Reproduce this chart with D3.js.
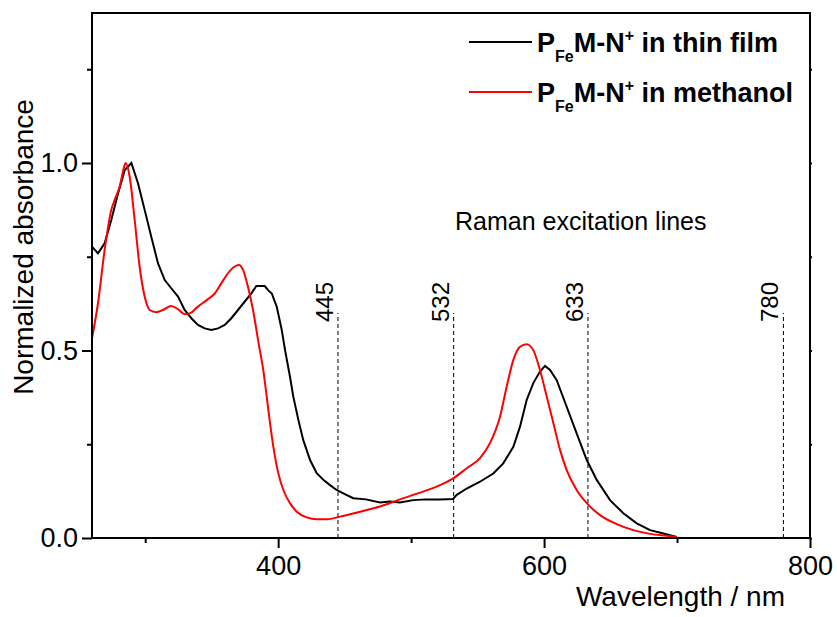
<!DOCTYPE html>
<html>
<head>
<meta charset="utf-8">
<script src="https://cdn.jsdelivr.net/npm/d3@7"></script>
<style>
  body { margin: 0; background: #fff; }
  text { font-family: Arial, "Liberation Sans", sans-serif; }
</style>
</head>
<body>
<svg id="chart" width="837" height="617"></svg>
<script>
// thin film spectrum (nm, normalized absorbance)
var filmNm = [260, 264.5, 269.5, 274.5, 279.6, 284.6, 287, 289.6, 294.6, 299.6, 304.6, 309.6, 314.7, 319.6, 324.7, 329.7, 334.7, 339.7, 344.8, 349.7, 354.8, 359.8, 364.8, 369.8, 374.8, 379.8, 383.6, 389.9, 392.4, 395.2, 398.9, 402.7, 405.2, 408.9, 411.4, 415.2, 418.9, 424, 429, 434, 439, 444, 449, 456.5, 466, 476.6, 484, 491.6, 501.6, 511, 521.7, 531.5, 534.3, 541.8, 551.8, 561.8, 569.3, 576.9, 581.9, 586.9, 591.9, 596.9, 600.7, 604.5, 609.5, 617, 624.5, 632.1, 639.6, 649.6, 659.6, 669.7, 679.7, 689.7, 699.8];
var filmAbs = [0.777, 0.759, 0.786, 0.848, 0.919, 0.981, 0.99, 1.0, 0.946, 0.875, 0.803, 0.733, 0.688, 0.666, 0.644, 0.608, 0.586, 0.568, 0.559, 0.555, 0.559, 0.568, 0.586, 0.608, 0.630, 0.652, 0.672, 0.672, 0.661, 0.652, 0.617, 0.555, 0.501, 0.43, 0.377, 0.315, 0.261, 0.208, 0.173, 0.155, 0.141, 0.128, 0.119, 0.106, 0.103, 0.095, 0.097, 0.095, 0.101, 0.103, 0.103, 0.104, 0.115, 0.132, 0.150, 0.172, 0.199, 0.243, 0.297, 0.368, 0.413, 0.444, 0.459, 0.448, 0.421, 0.350, 0.279, 0.208, 0.155, 0.101, 0.066, 0.039, 0.021, 0.012, 0.003];

// methanol spectrum
var methNm = [260, 264.5, 269.5, 274.5, 277, 280.8, 284.6, 285.3, 288.3, 292.1, 295.8, 299.6, 303.4, 308.4, 313.4, 319.6, 324.7, 329.7, 333.5, 339.7, 347.2, 352.3, 357.2, 362.3, 367.3, 370.3, 373.6, 377.3, 381.1, 385.5, 388.8, 391.4, 393.9, 396.4, 400.1, 403.9, 408.9, 414, 421.5, 429, 436.5, 446.5, 461.6, 476.6, 491.6, 506.7, 521.7, 531.7, 541.8, 551.8, 559.3, 566.9, 571.9, 576.9, 581.9, 586.9, 591.9, 596.9, 602, 607, 612, 617, 624.5, 632.1, 642.1, 654.6, 667.1, 679.7, 692.2, 699.8];
var methAbs = [0.532, 0.626, 0.768, 0.875, 0.901, 0.937, 0.995, 1.0, 0.964, 0.848, 0.724, 0.644, 0.608, 0.602, 0.608, 0.619, 0.610, 0.597, 0.599, 0.617, 0.637, 0.652, 0.679, 0.706, 0.724, 0.728, 0.715, 0.670, 0.608, 0.515, 0.448, 0.377, 0.306, 0.243, 0.173, 0.128, 0.093, 0.070, 0.055, 0.050, 0.050, 0.057, 0.070, 0.084, 0.103, 0.121, 0.141, 0.159, 0.186, 0.213, 0.253, 0.324, 0.404, 0.475, 0.510, 0.517, 0.501, 0.448, 0.377, 0.306, 0.235, 0.181, 0.128, 0.093, 0.061, 0.037, 0.021, 0.011, 0.006, 0.003];

var ramanLines = [445, 532, 633, 780];
var xTicks = [400, 600, 800];
var xMinor = [300, 500, 700];
var yTicks = [0, 0.5, 1.0];
var yMinor = [0.25, 0.75, 1.25];
var legendLabels = [" in thin film", " in methanol"];
var seriesColors = ["#000000", "#ff0000"];

var svg = d3.select("#chart");
var mLeft = 92, mRight = 810, mTop = 13, mBottom = 538;

var x = d3.scaleLinear().domain([260, 800]).range([mLeft, mRight]);
var y = d3.scaleLinear().domain([0, 1.4]).range([mBottom, mTop]);

// raman dashed lines
svg.selectAll(".raman").data(ramanLines).enter().append("line")
  .attr("x1", d => x(d)).attr("x2", d => x(d))
  .attr("y1", y(0)).attr("y2", y(0.6))
  .attr("stroke", "#000").attr("stroke-width", 1)
  .attr("stroke-dasharray", "4,3");

svg.selectAll(".ramanLbl").data(ramanLines).enter().append("text")
  .attr("transform", d => "translate(" + (x(d) - 5) + "," + (y(0.6) + 9) + ") rotate(-90)")
  .attr("font-size", 24)
  .text(d => d);

svg.append("text").attr("x", 455).attr("y", 230).attr("font-size", 25)
  .text("Raman excitation lines");

// curves
var film = filmNm.map((d, i) => [d, filmAbs[i]]);
var meth = methNm.map((d, i) => [d, methAbs[i]]);

svg.append("path").datum(film)
  .attr("d", d3.line().x(d => x(d[0])).y(d => y(d[1])))
  .attr("fill", "none").attr("stroke", seriesColors[0]).attr("stroke-width", 2);

svg.append("path").datum(meth)
  .attr("d", d3.line().curve(d3.curveMonotoneX).x(d => x(d[0])).y(d => y(d[1])))
  .attr("fill", "none").attr("stroke", seriesColors[1]).attr("stroke-width", 2);

// frame
svg.append("rect").attr("x", mLeft).attr("y", mTop)
  .attr("width", mRight - mLeft).attr("height", mBottom - mTop)
  .attr("fill", "none").attr("stroke", "#000").attr("stroke-width", 2);

// axes
var xAxis = svg.append("g").attr("transform", "translate(0," + mBottom + ")")
  .call(d3.axisBottom(x).tickValues(xTicks).tickSize(10).tickPadding(8).tickFormat(d3.format("d")));
var xAxisMinor = svg.append("g").attr("transform", "translate(0," + mBottom + ")")
  .call(d3.axisBottom(x).tickValues(xMinor).tickSize(5).tickFormat(""));
var yAxis = svg.append("g").attr("transform", "translate(" + mLeft + ",0)")
  .call(d3.axisLeft(y).tickValues(yTicks).tickSize(10).tickPadding(4).tickFormat(d3.format(".1f")));
var yAxisMinor = svg.append("g").attr("transform", "translate(" + mLeft + ",0)")
  .call(d3.axisLeft(y).tickValues(yMinor).tickSize(5).tickFormat(""));
var yRight = svg.append("g").attr("transform", "translate(" + mRight + ",0)")
  .call(d3.axisRight(y).tickValues(yTicks.concat(yMinor)).tickSize(2).tickFormat(""));

[xAxis, xAxisMinor, yAxis, yAxisMinor, yRight].forEach(g => {
  g.select(".domain").remove();
  g.selectAll("line").attr("stroke", "#000").attr("stroke-width", 2);
  g.selectAll("text").attr("font-size", 27).attr("fill", "#000")
    .style("font-family", "Arial, 'Liberation Sans', sans-serif");
});

// axis titles
svg.append("text").attr("x", 785).attr("y", 606).attr("text-anchor", "end")
  .attr("font-size", 28).text("Wavelength / nm");
svg.append("text").attr("transform", "translate(33,247) rotate(-90)")
  .attr("text-anchor", "middle").attr("font-size", 28).text("Normalized absorbance");

// legend
var leg = svg.selectAll(".leg").data(legendLabels).enter().append("g")
  .attr("transform", (d, i) => "translate(0," + (i * 50) + ")");
leg.append("line").attr("x1", 469).attr("x2", 532).attr("y1", 42).attr("y2", 42)
  .attr("stroke", (d, i) => seriesColors[i]).attr("stroke-width", 2);
var lt = leg.append("text").attr("x", 537).attr("y", 52)
  .attr("font-size", 27).attr("font-weight", "bold");
lt.append("tspan").text("P");
lt.append("tspan").attr("font-size", 16).attr("dy", 10).text("Fe");
lt.append("tspan").attr("dy", -10).text("M-N");
lt.append("tspan").attr("font-size", 16).attr("dy", -11).text("+");
lt.append("tspan").attr("dy", 11).text(d => d);
</script>
</body>
</html>
